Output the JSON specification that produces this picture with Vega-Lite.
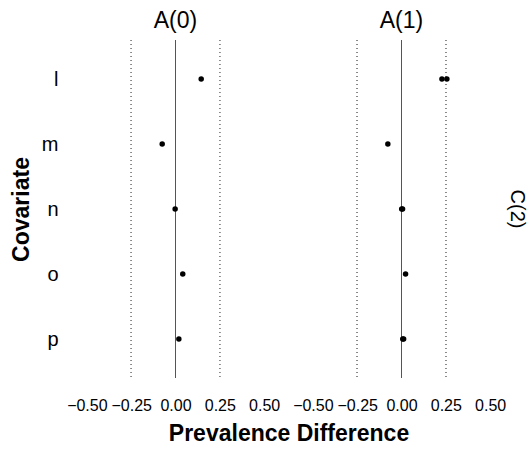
{
  "$schema": "https://vega.github.io/schema/vega-lite/v6.json",
  "padding": {"left": 10, "top": 10, "right": 4, "bottom": 4},
  "data": {"values": [
    {"A": "A(0)", "C": "C(2)", "covariate": "l", "diff": 0.145},
    {"A": "A(0)", "C": "C(2)", "covariate": "m", "diff": -0.075},
    {"A": "A(0)", "C": "C(2)", "covariate": "n", "diff": -0.002},
    {"A": "A(0)", "C": "C(2)", "covariate": "o", "diff": 0.041},
    {"A": "A(0)", "C": "C(2)", "covariate": "p", "diff": 0.019},
    {"A": "A(1)", "C": "C(2)", "covariate": "l", "diff": 0.228},
    {"A": "A(1)", "C": "C(2)", "covariate": "l", "diff": 0.256},
    {"A": "A(1)", "C": "C(2)", "covariate": "m", "diff": -0.077},
    {"A": "A(1)", "C": "C(2)", "covariate": "n", "diff": 0.001},
    {"A": "A(1)", "C": "C(2)", "covariate": "n", "diff": 0.006},
    {"A": "A(1)", "C": "C(2)", "covariate": "o", "diff": 0.023},
    {"A": "A(1)", "C": "C(2)", "covariate": "p", "diff": 0.007},
    {"A": "A(1)", "C": "C(2)", "covariate": "p", "diff": 0.012}
  ]},
  "facet": {
    "column": {"field": "A", "type": "nominal", "title": "Prevalence Difference",
      "header": {"labelOrient": "top", "titleOrient": "bottom",
        "labelFontSize": 23, "labelFont": "Liberation Sans", "labelColor": "#000", "labelPadding": 6,
        "titleFontSize": 23, "titleFont": "Liberation Sans", "titleFontWeight": "bold", "titleColor": "#000", "titlePadding": 0}},
    "row": {"field": "C", "type": "nominal", "title": null,
      "header": {"labelOrient": "right", "labelAngle": 90, "labelFontSize": 20, "labelFont": "Liberation Sans", "labelColor": "#000", "labelPadding": 8}}
  },
  "spacing": {"column": 31},
  "spec": {
    "width": 195,
    "height": 338,
    "layer": [
      {"mark": {"type": "rule", "color": "#888", "strokeDash": [1, 3], "strokeWidth": 1},
       "encoding": {"x": {"datum": -0.25}}},
      {"mark": {"type": "rule", "color": "#888", "strokeDash": [1, 3], "strokeWidth": 1},
       "encoding": {"x": {"datum": 0.25}}},
      {"mark": {"type": "rule", "color": "#555", "strokeWidth": 1},
       "encoding": {"x": {"datum": 0}}},
      {"mark": {"type": "point", "filled": true, "color": "#000", "opacity": 1, "size": 30},
       "encoding": {
         "x": {"field": "diff", "type": "quantitative", "title": null,
           "scale": {"domain": [-0.55, 0.55], "nice": false, "zero": false},
           "axis": {"values": [-0.5, -0.25, 0, 0.25, 0.5], "format": ".2f", "grid": false, "ticks": false, "domain": false,
             "labelFontSize": 16, "labelFont": "Liberation Sans", "labelColor": "#000", "labelPadding": 18}},
         "y": {"field": "covariate", "type": "nominal", "title": "Covariate",
           "sort": ["l", "m", "n", "o", "p"],
           "scale": {"type": "point", "padding": 0.6},
           "axis": {"grid": false, "ticks": false, "domain": false,
             "labelFontSize": 20, "labelFont": "Liberation Sans", "labelColor": "#000", "labelPadding": 20,
             "titleFontSize": 23, "titleFont": "Liberation Sans", "titleFontWeight": "bold", "titleColor": "#000", "titlePadding": 8}}
       }}
    ]
  },
  "resolve": {"scale": {"x": "shared"}},
  "config": {"view": {"stroke": null}, "background": "white"}
}
